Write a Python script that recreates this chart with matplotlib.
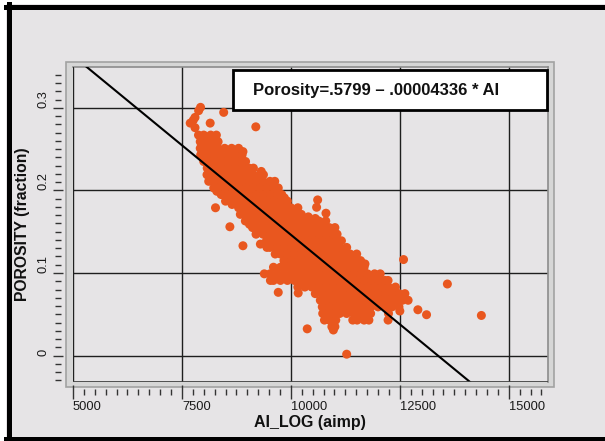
import matplotlib

matplotlib.use("Agg")
import matplotlib.pyplot as plt
from matplotlib.lines import Line2D
from matplotlib.patches import Rectangle
from matplotlib.ticker import MultipleLocator

W, H = 605, 441
BG = "#e6e4e6"
DOT = "#e9571f"

# regression shown in the box
INTERCEPT = 0.5799
SLOPE = -0.00004336
LINE_AI = [5000, 14200]
EQUATION = "Porosity=.5799 \u2013 .00004336 * AI"

X_TICKS = [5000, 7500, 10000, 12500, 15000]
Y_TICKS = [0, 0.1, 0.2, 0.3]
Y_TICK_LABELS = ["0", "0.1", "0.2", "0.3"]

row_porosity = [0.267, 0.259, 0.251, 0.243, 0.235, 0.227, 0.219, 0.211, 0.203, 0.195,
                0.187, 0.179, 0.171, 0.163, 0.155, 0.147, 0.139, 0.131, 0.123, 0.115,
                0.107, 0.099, 0.091, 0.083, 0.075, 0.067, 0.059, 0.051, 0.043, 0.035]
row_ai = [
    [7880, 8000, 8160, 8290],
    [7920, 8080, 8240, 8330],
    [7920, 8000, 8160, 8320, 8480, 8640, 8800],
    [7930, 8080, 8240, 8400, 8560, 8720, 8880],
    [8000, 8160, 8320, 8480, 8640, 8800, 8960],
    [8080, 8240, 8400, 8560, 8720, 8880, 9040, 9140],
    [8075, 8160, 8320, 8480, 8640, 8800, 8960, 9120, 9280, 9370],
    [8114, 8240, 8400, 8560, 8720, 8880, 9040, 9200, 9360, 9520, 9630],
    [8230, 8320, 8480, 8640, 8800, 8960, 9120, 9280, 9440, 9600, 9710],
    [8400, 8560, 8720, 8880, 9040, 9200, 9360, 9520, 9680, 9790],
    [8500, 8640, 8800, 8960, 9120, 9280, 9440, 9600, 9760, 9920],
    [8800, 8880, 9040, 9200, 9360, 9520, 9680, 9840, 10000, 10160],
    [8840, 8960, 9120, 9280, 9440, 9600, 9760, 9920, 10080, 10240],
    [8955, 9040, 9200, 9360, 9520, 9680, 9840, 10000, 10160, 10320, 10480, 10640, 10800],
    [9120, 9280, 9440, 9600, 9760, 9920, 10080, 10240, 10400, 10560, 10720, 10880, 11010],
    [9200, 9360, 9520, 9680, 9840, 10000, 10160, 10320, 10480, 10640, 10800, 10960, 11060],
    [9440, 9600, 9760, 9920, 10080, 10240, 10400, 10560, 10720, 10880, 11040, 11160],
    [9450, 9520, 9680, 9840, 10000, 10160, 10320, 10480, 10640, 10800, 10960, 11120, 11280],
    [9640, 9760, 9920, 10080, 10240, 10400, 10560, 10720, 10880, 11040, 11200, 11360, 11510],
    [9840, 10000, 10160, 10320, 10480, 10640, 10800, 10960, 11120, 11280, 11440, 11600],
    [9600, 9760, 9920, 10080, 10240, 10400, 10560, 10720, 10880, 11040, 11200, 11360, 11520, 11680],
    [9390, 9520, 9680, 9840, 10000, 10160, 10320, 10480, 10640, 10800, 10960, 11120, 11280,
     11440, 11600, 11760, 11920, 12050],
    [9530, 9600, 9760, 9920, 10080, 10240, 10400, 10560, 10720, 10880, 11040, 11200, 11360,
     11520, 11680, 11840, 12000, 12160, 12230],
    [10160, 10320, 10480, 10640, 10800, 10960, 11120, 11280, 11440, 11600, 11760, 11920,
     12080, 12240, 12400],
    [10560, 10720, 10880, 11040, 11200, 11360, 11520, 11680, 11840, 12000, 12160, 12320,
     12480, 12616],
    [10675, 10800, 10960, 11120, 11280, 11440, 11600, 11760, 11920, 12080, 12240, 12400,
     12560, 12690],
    [10720, 10880, 11040, 11200, 11360, 11520, 11680, 11840, 12000, 12160, 12320, 12480],
    [10730, 10800, 10960, 11120, 11280, 11440, 11600, 11760, 11830, 12240],
    [10770, 10880, 11030, 11420, 11520, 11680, 11790, 12230],
    [10940, 11010],
]

# points on the ragged rim of the cloud, between rows
edge_ai = [8300, 8650, 8900, 9320, 9850, 10400, 10560, 9050, 9300, 11700, 12000, 12300]
edge_por = [0.199, 0.183, 0.247, 0.223, 0.191, 0.168, 0.166, 0.159, 0.135, 0.111, 0.095, 0.079]

# loose points: top chain, stragglers and outliers
extra_ai = [7927, 7883, 7800, 7760, 7690, 7800, 8148, 8458, 9195,
            8270, 8600, 8900, 10614, 10590, 10805,
            12585, 13591, 14371, 9710, 10168, 10375, 11280,
            12500, 12914, 13113, 10975]
extra_por = [0.3006, 0.2965, 0.2884, 0.285, 0.2815, 0.276, 0.2815, 0.2945, 0.277,
             0.179, 0.156, 0.133, 0.1885, 0.1796, 0.1724,
             0.1163, 0.0867, 0.0486, 0.0766, 0.0758, 0.0324, 0.0017,
             0.054, 0.0555, 0.0495, 0.031]


def fx(px):
    return px / W


def fy(py):
    return 1 - py / H


plt.rcParams["font.family"] = ["Liberation Sans", "DejaVu Sans"]

ai, por = [], []
for p, xs in zip(row_porosity, row_ai):
    ai.extend(xs)
    por.extend([p] * len(xs))
ai.extend(edge_ai + extra_ai)
por.extend(edge_por + extra_por)

fig = plt.figure(figsize=(W / 100, H / 100), dpi=100)
fig.patch.set_facecolor("white")

# window panel + black border on top/left/bottom
fig.patches.append(Rectangle((fx(6), 0), 1 - fx(6), fy(4), transform=fig.transFigure,
                             facecolor=BG, edgecolor="none", zorder=-3))
fig.patches.append(Rectangle((fx(65.5), fy(386.5)), fx(553.5) - fx(65.5), fy(62) - fy(386.5),
                             transform=fig.transFigure, facecolor="#d6d6d6",
                             edgecolor="#a2a2a2", lw=1.2, zorder=-2))
for xs, ys in [([fx(6), 1], [fy(6.5), fy(6.5)]),
               ([fx(8.5), fx(8.5)], [0, fy(4)]),
               ([fx(6), 1], [fy(438.5), fy(438.5)])]:
    fig.add_artist(Line2D(xs, ys, transform=fig.transFigure, color="black", lw=3.6, zorder=5))

ax = fig.add_axes([fx(73), fy(381.7), fx(548) - fx(73), fy(66.7) - fy(381.7)])
ax.set_facecolor(BG)
ax.set_xlim(5000, 15900)
ax.set_ylim(-0.0316, 0.3498)

ax.scatter(ai, por, s=42, c=DOT, edgecolors="none", zorder=2)
ax.plot(LINE_AI, [INTERCEPT + SLOPE * a for a in LINE_AI], color="black", lw=1.5, zorder=3)

ax.set_axisbelow(True)
ax.grid(which="major", color="#1e1e1e", lw=1.0)

for side in ("top", "right"):
    ax.spines[side].set_color("#8c8c8c")
    ax.spines[side].set_linewidth(1.2)
ax.spines["bottom"].set_position(("outward", 7.4))
ax.spines["left"].set_position(("outward", 10.6))
ax.spines["bottom"].set_color("none")
ax.spines["left"].set_color("none")
ax.add_line(Line2D([0, 0], [0, 1], transform=ax.transAxes, color="#222222", lw=1.3, zorder=4))
ax.add_line(Line2D([0, 1], [0, 0], transform=ax.transAxes, color="#444444", lw=1.3, zorder=4))

ax.set_xticks(X_TICKS)
ax.set_xticklabels([str(v) for v in X_TICKS])
ax.set_yticks(Y_TICKS)
ax.set_yticklabels(Y_TICK_LABELS)
ax.xaxis.set_minor_locator(MultipleLocator(250))
ax.yaxis.set_minor_locator(MultipleLocator(0.01))

ax.tick_params(axis="x", which="major", direction="inout", length=9.4, width=1.0,
               color="#333333", pad=1.8, labelsize=9.3, labelcolor="#1a1a1a")
ax.tick_params(axis="x", which="minor", direction="inout", length=4.3, width=1.0, color="#333333")
ax.tick_params(axis="y", which="major", direction="inout", length=7.2, width=1.0,
               color="#333333", pad=2.4, labelsize=9.3, labelcolor="#1a1a1a", labelrotation=90)
ax.tick_params(axis="y", which="minor", direction="inout", length=5.0, width=1.0, color="#333333")
for lbl in ax.get_xticklabels():
    lbl.set_ha("left")
for lbl in ax.get_yticklabels():
    lbl.set_va("bottom")

# equation box
ax.add_patch(Rectangle((0.3368, 0.8625), 0.998 - 0.3368, 0.1286, transform=ax.transAxes,
                       facecolor="white", edgecolor="black", lw=2.0, zorder=5, clip_on=False))
ax.text(0.379, 0.9229, EQUATION, transform=ax.transAxes, ha="left", va="center",
        fontsize=12, fontweight="bold", color="#111111", zorder=6)

fig.text(fx(310), fy(422), "AI_LOG (aimp)", ha="center", va="center",
         fontsize=11.5, fontweight="bold", color="#111111")
fig.text(fx(23), fy(224), "POROSITY (fraction)", ha="center", va="center", rotation=90,
         fontsize=11.3, fontweight="bold", color="#111111")

fig.savefig("out.png", dpi=100, facecolor=fig.get_facecolor())
